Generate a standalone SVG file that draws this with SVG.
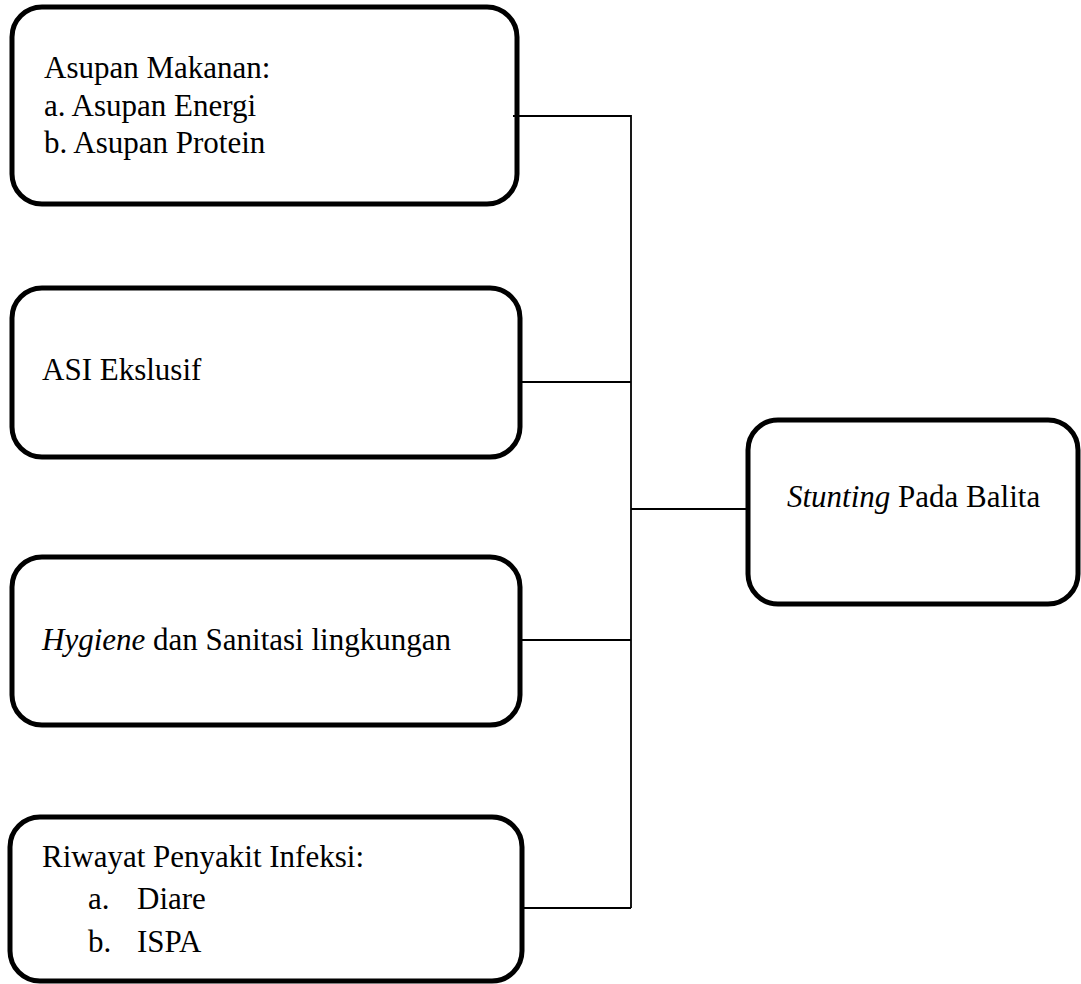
<svg xmlns="http://www.w3.org/2000/svg" width="1081" height="984" viewBox="0 0 1081 984">
<style>
.box{fill:#fff;stroke:#000;stroke-width:5}
.t{font-family:"Liberation Serif","Times New Roman",serif;font-size:31px;fill:#000}
.i{font-style:italic}
.c{fill:none;stroke:#000;stroke-width:1.8}
</style>
<rect width="1081" height="984" fill="#fff"/>
<g id="n1">
<rect class="box" x="12" y="7" width="505" height="197" rx="30"/>
<text class="t" x="44" y="78">Asupan Makanan:</text>
<text class="t" x="44" y="116">a. Asupan Energi</text>
<text class="t" x="44" y="153">b. Asupan Protein</text>
</g>
<g id="n2">
<rect class="box" x="12" y="288" width="508" height="169" rx="30"/>
<text class="t" x="42" y="380">ASI Ekslusif</text>
</g>
<g id="n3">
<rect class="box" x="12" y="557" width="508" height="168" rx="30"/>
<text class="t" x="42" y="650"><tspan class="i">Hygiene</tspan> dan Sanitasi lingkungan</text>
</g>
<g id="n4">
<rect class="box" x="10" y="817" width="512" height="164" rx="30"/>
<text class="t" x="42" y="867">Riwayat Penyakit Infeksi:</text>
<text class="t" x="88" y="909">a.</text>
<text class="t" x="137" y="909">Diare</text>
<text class="t" x="88" y="952">b.</text>
<text class="t" x="137" y="952">ISPA</text>
</g>
<g id="n5">
<rect class="box" x="748" y="420" width="330" height="184" rx="30"/>
<text class="t" x="787" y="507"><tspan class="i">Stunting</tspan> Pada Balita</text>
</g>
<g id="connectors">
<path class="c" d="M513 116H631V908M522 382H631M522 640H631M522 908H631M631 509H748"/>
</g>
</svg>
